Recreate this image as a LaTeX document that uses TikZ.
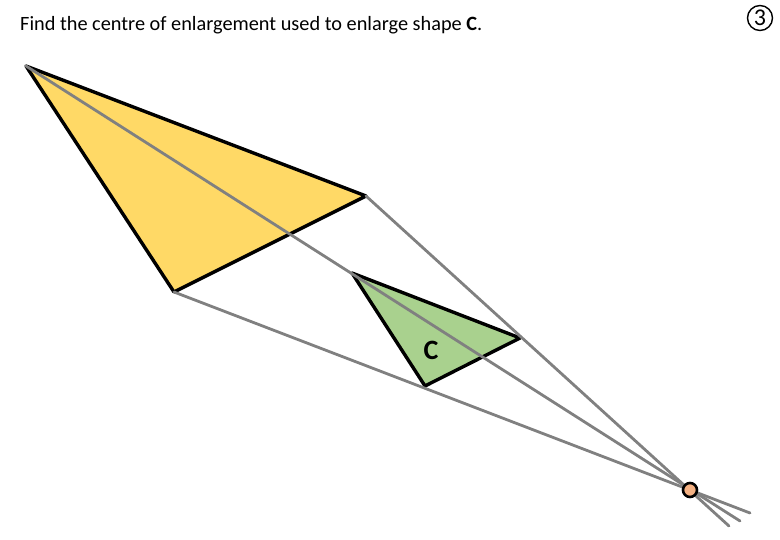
\documentclass[tikz,border=0pt]{standalone}
\usepackage{fontspec}
\setmainfont{Carlito}
\definecolor{bigfill}{HTML}{FFD966}
\definecolor{smallfill}{HTML}{A9D18E}
\definecolor{centrefill}{HTML}{F4B183}
\definecolor{rayc}{HTML}{808080}
\begin{document}
\begin{tikzpicture}[x=1pt,y=-1pt,
  triedge/.style={draw=black,line width=3.4pt,line join=round},
  ray/.style={draw=rayc,line width=2.8pt,line cap=round},
  lbl/.style={inner sep=0pt,anchor=base west,font=\fontsize{20.3}{24}\selectfont}]
\useasboundingbox (0,0) rectangle (780,540);
% big triangle
\coordinate (A) at (26,66);
\coordinate (B) at (366,196);
\coordinate (C) at (174,292);
% small triangle
\coordinate (a) at (352,273);
\coordinate (b) at (520,338);
\coordinate (c) at (425,386);
% centre and ray ends
\coordinate (O) at (690,490);
\coordinate (eA) at (740,521);
\coordinate (eB) at (729,526);
\coordinate (eC) at (750,513);
\filldraw[triedge,fill=bigfill] (A) -- (B) -- (C) -- cycle;
\filldraw[triedge,fill=smallfill] (a) -- (b) -- (c) -- cycle;
\node[font=\fontsize{28}{32}\selectfont\bfseries] (lc) at (431,350) {C};
\draw[ray] (A) -- (eA);
\draw[ray] (B) -- (eB);
\draw[ray] (C) -- (eC);
\node[circle,draw=black,line width=2.6pt,fill=centrefill,minimum size=14pt,inner sep=0pt] (cen) at (O) {};
\node[lbl] (title) at (20,31) {Find the centre of enlargement used to enlarge shape \textbf{C}.};
\node[circle,draw=black,line width=1.4pt,minimum size=25pt,inner sep=0pt,font=\fontsize{24}{28}\selectfont] (num) at (760,18) {3};
\end{tikzpicture}
\end{document}
